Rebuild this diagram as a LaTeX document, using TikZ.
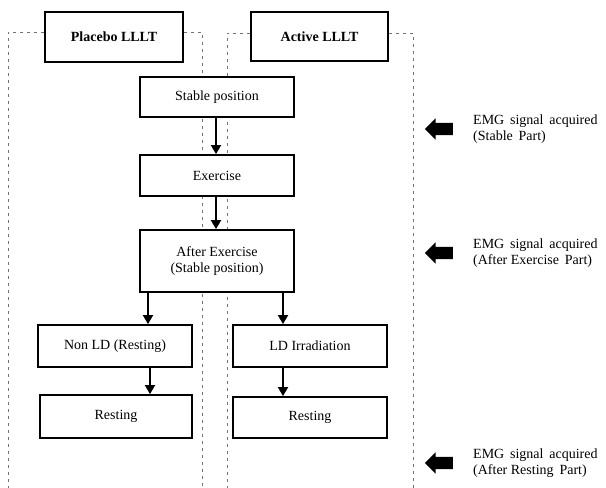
\documentclass[tikz,border=0pt]{standalone}
\usepackage{fontspec}
\setmainfont{Liberation Serif}
\usetikzlibrary{arrows.meta,shapes.arrows}
\begin{document}
\begin{tikzpicture}[x=1pt,y=-1pt,
  box/.style={draw, line width=1.8pt, fill=white, inner sep=0pt, align=center,
    font=\fontsize{14}{16}\selectfont},
  headbox/.style={box, font=\fontsize{14}{16}\selectfont\bfseries},
  flow/.style={line width=1.8pt, -{Triangle[length=9pt,width=10pt]}},
  panel/.style={black!55, line width=0.6pt, dash pattern=on 3pt off 4pt},
  bigarrow/.style={single arrow, fill=black, draw=none, shape border rotate=180,
    minimum height=28pt, single arrow head extend=4.5pt, inner xsep=0pt, inner ysep=6pt},
  note/.style={anchor=west, align=left, inner sep=0pt, font=\fontsize{14}{16}\selectfont}]
\useasboundingbox (0,0) rectangle (606,488);
% header boxes
\node[headbox, minimum width=138pt, minimum height=50pt] (pl) at (114,37) {Placebo LLLT};
\node[headbox, minimum width=137pt, minimum height=49pt] (ac) at (319.5,36.5) {Active LLLT};
% dashed panels
\coordinate (pltopl) at (8,32);
\coordinate (pltopr) at (202,32);
\coordinate (actopl) at (227,33);
\coordinate (actopr) at (413,33);
\draw[panel] (pl.west |- pltopl) -- (pltopl) -- (8,488);
\draw[panel] (pl.east |- pltopr) -- (pltopr) -- (202,488);
\draw[panel] (ac.west |- actopl) -- (actopl) -- (227,488);
\draw[panel] (ac.east |- actopr) -- (actopr) -- (413,488);
% flow boxes
\node[box, minimum width=154pt, minimum height=40pt] (st) at (217,97) {Stable position};
\node[box, minimum width=154pt, minimum height=41pt] (ex) at (217,175.5) {Exercise};
\node[box, minimum width=154pt, minimum height=62pt] (ae) at (217,261) {After Exercise\\(Stable position)};
\node[box, minimum width=154pt, minimum height=42pt] (nl) at (115,346) {Non LD (Resting)};
\node[box, minimum width=152pt, minimum height=43pt] (rl) at (116,416.5) {Resting};
\node[box, minimum width=154pt, minimum height=42pt] (ld) at (310,346) {LD Irradiation};
\node[box, minimum width=154pt, minimum height=41pt] (rr) at (310,417.5) {Resting};
% connectors
\draw[flow] (st.south -| 216,0) -- (ex.north -| 216,0);
\draw[flow] (ex.south -| 216,0) -- (ae.north -| 216,0);
\draw[flow] (ae.south -| 148,0) -- (nl.north -| 148,0);
\draw[flow] (ae.south -| 283,0) -- (ld.north -| 283,0);
\draw[flow] (nl.south -| 150,0) -- (rl.north -| 150,0);
\draw[flow] (ld.south -| 283,0) -- (rr.north -| 283,0);
% EMG markers
\node[bigarrow] (a1) at (442,129) {};
\node[bigarrow] (a2) at (442,253) {};
\node[bigarrow] (a3) at (442,463) {};
\node[note] (t1) at (473,129) {EMG\, signal\, acquired\\(Stable\, Part)};
\node[note] (t2) at (473,253) {EMG\, signal\, acquired\\(After Exercise\, Part)};
\node[note] (t3) at (473,463) {EMG\, signal\, acquired\\(After Resting\, Part)};
\end{tikzpicture}
\end{document}
